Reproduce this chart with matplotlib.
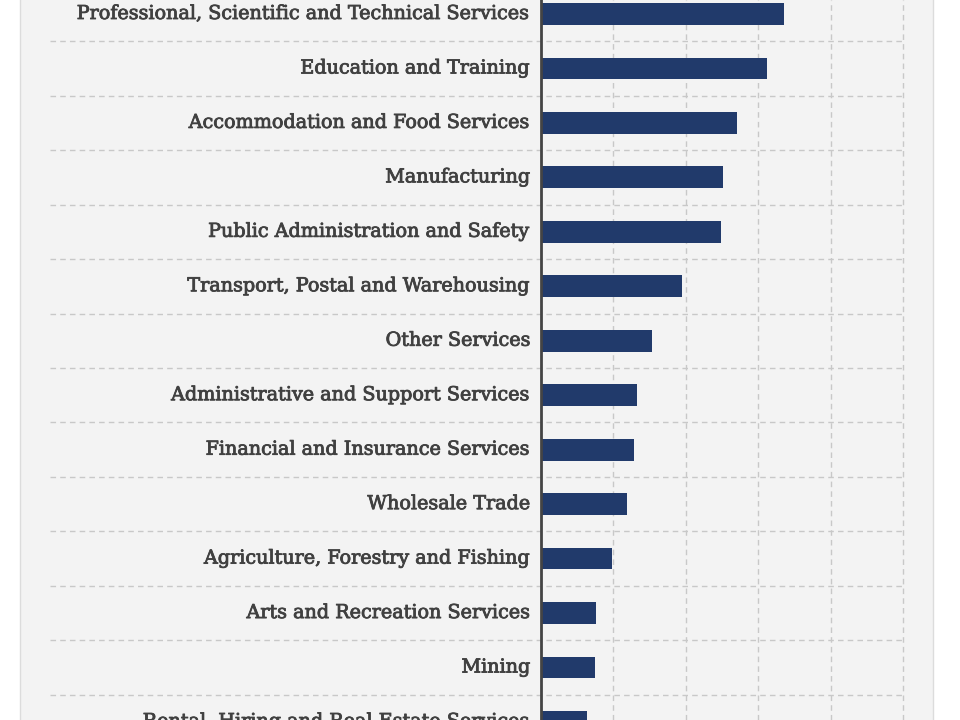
import matplotlib
matplotlib.use("Agg")
import matplotlib.pyplot as plt
import matplotlib.patheffects as pe
from matplotlib.patches import Rectangle

# industries visible in the crop, top to bottom
industries = [
    "Professional, Scientific and Technical Services",
    "Education and Training",
    "Accommodation and Food Services",
    "Manufacturing",
    "Public Administration and Safety",
    "Transport, Postal and Warehousing",
    "Other Services",
    "Administrative and Support Services",
    "Financial and Insurance Services",
    "Wholesale Trade",
    "Agriculture, Forestry and Fishing",
    "Arts and Recreation Services",
    "Mining",
    "Rental, Hiring and Real Estate Services",
]
# share of employment (%)
share = [6.72, 6.24, 5.42, 5.02, 4.97, 3.89, 3.07, 2.66, 2.58, 2.37,
         1.96, 1.52, 1.49, 1.27]
grid_ticks = [0, 2, 4, 6, 8, 10]

bar_color = "#213a6b"
text_color = "#404040"
grid_color = "#c8c8c8"

fig = plt.figure(figsize=(9.6, 7.2), dpi=100)
fig.patch.set_facecolor("white")

# grey card behind the chart
card = Rectangle((20 / 960, -0.1), 913 / 960, 1.2, transform=fig.transFigure,
                 facecolor="#f3f3f3", edgecolor="#dcdcdc", lw=1, zorder=-1)
fig.patches.append(card)

ax = fig.add_axes([50 / 960, 0, 856 / 960, 1])
ax.set_facecolor("none")

y = list(range(len(industries)))
ax.barh(y, share, height=0.4, color=bar_color, zorder=3)

ax.set_xticks(grid_ticks)
ax.set_xticklabels([])
ax.set_yticks(y)
ax.set_yticklabels([])
ax.set_yticks([i + 0.5 for i in range(-1, len(industries))], minor=True)
ax.tick_params(which="both", length=0)

# zero sits at x=541px, one unit = 36.25px; rows are 54.46px apart
ax.set_xlim(-491 / 36.25, 10 + 3 / 36.25)
ax.set_ylim((720 - 14) / 54.46, -14 / 54.46)

ax.grid(axis="x", which="major", color=grid_color, ls=(0, (4, 3)), lw=1, zorder=1)
ax.grid(axis="y", which="minor", color=grid_color, ls=(0, (4, 3)), lw=1, zorder=1)

for s in ax.spines.values():
    s.set_visible(False)
ax.axvline(0, color="#444444", lw=2, zorder=4)

heavier = [pe.withStroke(linewidth=0.6, foreground=text_color)]
for yi, name in zip(y, industries):
    ax.text(-10 / 36.25, yi, name, ha="right", va="center",
            fontsize=13.8, family="DejaVu Serif", color=text_color, zorder=5,
            path_effects=heavier)

fig.savefig("out.png", dpi=100)
